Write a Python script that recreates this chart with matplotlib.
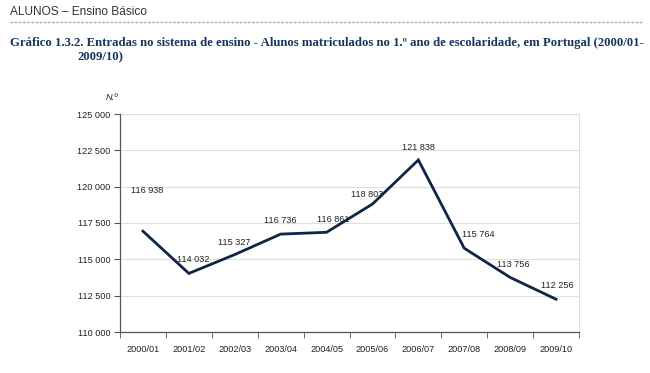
import matplotlib.pyplot as plt
from matplotlib.lines import Line2D
import numpy as np

years = ["2000/01", "2001/02", "2002/03", "2003/04", "2004/05",
         "2005/06", "2006/07", "2007/08", "2008/09", "2009/10"]
alunos = [116938, 114032, 115327, 116736, 116861,
          118803, 121838, 115764, 113756, 112256]

# label offsets in points (dx, dy)
offsets = [(3, 29), (3, 10), (0, 9), (0, 10), (5, 9),
           (-4, 7), (0, 9), (10, 10), (2, 9), (1, 10)]

navy = "#0f2544"
fmt = lambda v: f"{v:,.0f}".replace(",", " ")

fig = plt.figure(figsize=(6.5, 3.73), dpi=100)
ax = fig.add_axes([120 / 650, 1 - 332 / 373, 459 / 650, 218 / 373])

x = np.arange(len(years))
ax.plot(x, alunos, color=navy, lw=2.0, solid_joinstyle="miter")
for xi, v, (dx, dy) in zip(x, alunos, offsets):
    ax.annotate(fmt(v), (xi, v), xytext=(dx, dy), textcoords="offset points",
                ha="center", va="center", fontsize=6.6, color="#222222",
                family="Liberation Sans")

ax.set_xlim(-0.5, len(years) - 0.5)
ax.set_ylim(110000, 125000)
yt = np.arange(110000, 125001, 2500)
ax.set_yticks(yt)
ax.set_yticklabels([fmt(v) for v in yt], fontsize=6.6, family="Liberation Sans", color="#222222")
ax.set_xticks(x)
ax.set_xticklabels(years, fontsize=6.6, family="Liberation Sans", color="#222222")
ax.set_xticks(np.arange(-0.5, len(years)), minor=True)
ax.tick_params(axis="x", which="major", length=0, pad=9)
ax.tick_params(axis="x", which="minor", length=4, color="#555555", direction="out")
ax.tick_params(axis="y", length=4, color="#555555", direction="out", pad=3)
ax.grid(axis="y", color="#dedede", lw=0.8)
ax.set_axisbelow(True)
ax.spines["top"].set_visible(False)
ax.spines["right"].set_color("#dedede")
ax.spines["right"].set_linewidth(0.8)
for s in ["left", "bottom"]:
    ax.spines[s].set_color("#555555")
    ax.spines[s].set_linewidth(0.9)

fig.text(112 / 650, 1 - 97 / 373, "N.º", fontsize=6.6, style="italic",
         ha="center", va="center", color="#222222", family="Liberation Sans")

fig.text(10 / 650, 1 - 12 / 373, "ALUNOS – Ensino Básico", fontsize=8.6,
         ha="left", va="center", color="#333333", family="Liberation Sans")
fig.add_artist(Line2D([10 / 650, 642 / 650], [1 - 22 / 373, 1 - 22 / 373],
                      transform=fig.transFigure, color="#aaaaaa", lw=1.0,
                      ls=(0, (2, 1))))
fig.text(10 / 650, 1 - 43 / 373,
         "Gráfico 1.3.2. Entradas no sistema de ensino - Alunos matriculados no 1.º ano de escolaridade, em Portugal (2000/01-",
         fontsize=9.15, weight="bold", ha="left", va="center", color="#17365d",
         family="Liberation Serif")
fig.text(78 / 650, 1 - 57 / 373, "2009/10)", fontsize=9.15, weight="bold",
         ha="left", va="center", color="#17365d", family="Liberation Serif")

fig.savefig("out.png", dpi=100)
